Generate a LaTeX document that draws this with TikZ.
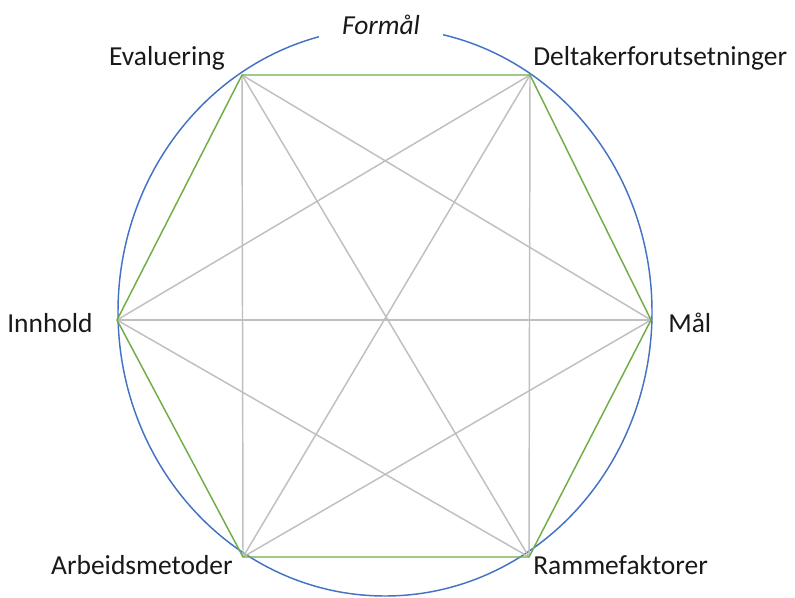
\documentclass[tikz,border=0pt]{standalone}
\usepackage{fontspec}
\setmainfont{Carlito}
\usetikzlibrary{calc,positioning}
\definecolor{ringblue}{HTML}{4472C4}
\definecolor{edgegreen}{HTML}{70AD47}
\definecolor{diaggray}{HTML}{BFBFBF}

\begin{document}
\begin{tikzpicture}[x=0.75pt,y=-0.75pt,font=\fontsize{20.6}{24}\selectfont,
  lbl/.style={inner sep=0pt,text=black!90},
  diag/.style={diaggray,line width=1.1pt}]
\useasboundingbox (0,0) rectangle (795,598);
\coordinate (E) at (242,75);
\coordinate (D) at (530,75);
\coordinate (M) at (651,320);
\coordinate (R) at (529,557);
\coordinate (A) at (243,557);
\coordinate (I) at (117,320);
% outer ring
\draw[ringblue,line width=1.1pt] (385,312) ellipse [x radius=267,y radius=284];
% diagonals
\foreach \a/\b in {E/M,E/R,E/A,D/R,D/A,D/I,M/A,M/I,R/I}{\draw[diag] (\a)--(\b);}
% hexagon
\draw[edgegreen,line width=1.1pt] (E)--(D)--(M)--(R)--(A)--(I)--cycle;
% labels
\node[lbl,anchor=base,fill=white,inner xsep=17pt,inner ysep=6pt] (formaal) at (381,35) {\itshape Formål};
\node[lbl,anchor=base east] (evaluering) at ($(E)+(-17,-9)$) {Evaluering};
\node[lbl,anchor=base west] (deltaker) at ($(D)+(3,-9)$) {Deltakerforutsetninger};
\node[lbl,anchor=base west] (maal) at ($(M)+(17,12)$) {Mål};
\node[lbl,anchor=base west] (ramme) at ($(R)+(4,17)$) {Rammefaktorer};
\node[lbl,anchor=base east] (arbeid) at ($(A)+(-10,17)$) {Arbeidsmetoder};
\node[lbl,anchor=base east] (innhold) at ($(I)+(-24,12)$) {Innhold};
\end{tikzpicture}
\end{document}
